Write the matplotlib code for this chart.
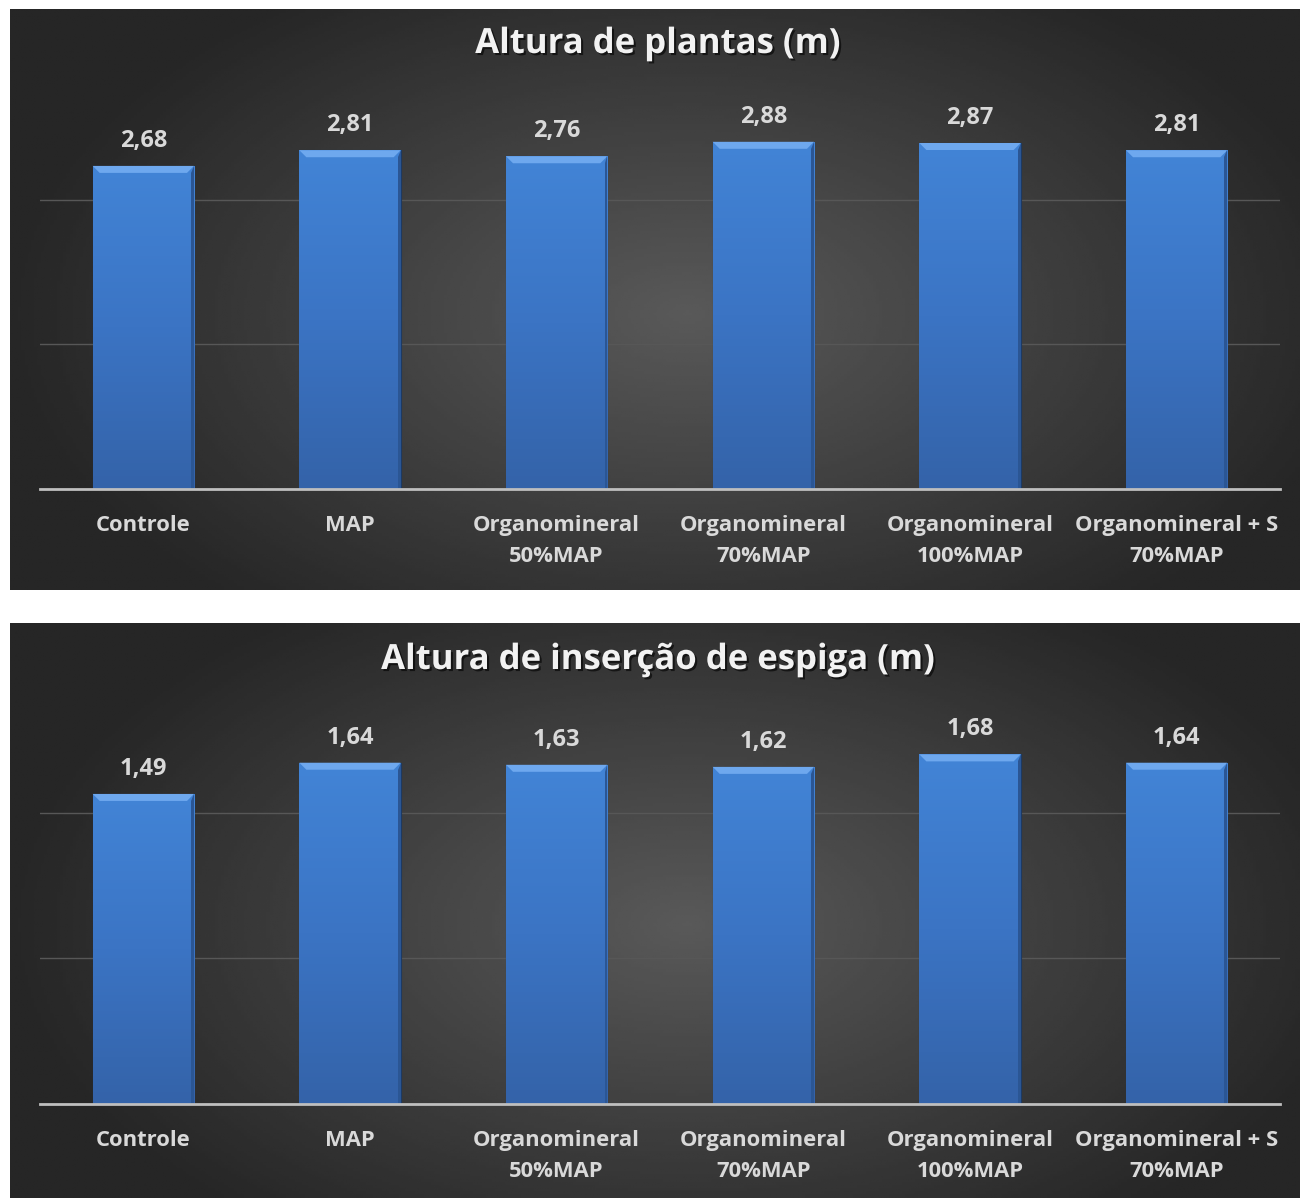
import numpy as np
import matplotlib
matplotlib.use('Agg')
import matplotlib.pyplot as plt
from matplotlib.patches import Polygon
from matplotlib.colors import LinearSegmentedColormap
import matplotlib.patheffects as pe

plt.rcParams['font.family'] = ['Open Sans', 'DejaVu Sans']

# DADOS
categorias = ['Controle', 'MAP', 'Organomineral\n50%MAP', 'Organomineral\n70%MAP',
              'Organomineral\n100%MAP', 'Organomineral + S\n70%MAP']
altura_plantas = [2.68, 2.81, 2.76, 2.88, 2.87, 2.81]
altura_espiga = [1.49, 1.64, 1.63, 1.62, 1.68, 1.64]

W, H = 1301, 1198
fig = plt.figure(figsize=(W / 100, H / 100), dpi=100)
fig.patch.set_facecolor('white')

cmap_barra = LinearSegmentedColormap.from_list('barra', ['#3463a9', '#3b74c4', '#4284d6'])
TXT = '#d9d9d9'


# FUNDO COM GRADIENTE RADIAL
def fundo(y0, y1):
    ax = fig.add_axes([10 / W, 1 - y1 / H, 1290 / W, (y1 - y0) / H])
    yy, xx = np.mgrid[-1:1:200j, -1:1:400j]
    r = np.sqrt(((xx - 0.05) * 0.95) ** 2 + ((yy - 0.05) * 0.75) ** 2)
    v = 0.35 - 0.2 * np.clip(r, 0, 1)
    ax.imshow(v, cmap='gray', vmin=0, vmax=1, aspect='auto', extent=[0, 1, 0, 1])
    ax.set_axis_off()


# GRAFICO DE BARRAS
def grafico(y_top, y_base, y_titulo, valores, titulo, ymax, passo):
    altura_px = y_base - y_top
    ax = fig.add_axes([40 / W, 1 - y_base / H, 1240 / W, altura_px / H])
    ax.set_facecolor('none')
    x = np.arange(len(valores))
    barras = ax.bar(x, valores, width=0.49, color='#3b78c8',
                    edgecolor='#1d3a63', linewidth=0.8, zorder=3)

    grad = np.linspace(0, 1, 100).reshape(-1, 1)
    dy = 7 * ymax / altura_px
    dx = 7 * 6 / 1240
    for b, v in zip(barras, valores):
        x0 = b.get_x()
        x1 = x0 + b.get_width()
        im = ax.imshow(grad, cmap=cmap_barra, aspect='auto', origin='lower',
                       extent=[x0, x1, 0, v], zorder=3.5)
        im.set_clip_path(b)
        # bisel superior
        ax.add_patch(Polygon([(x0, v), (x1, v), (x1 - dx, v - dy), (x0 + dx, v - dy)],
                             closed=True, facecolor='#6ea8ee', edgecolor='none', zorder=4))
        ax.add_patch(Polygon([(x1, v), (x1, 0), (x1 - dx * 0.4, 0), (x1 - dx * 0.4, v - dy)],
                             closed=True, facecolor='#2b5694', edgecolor='none', zorder=4))
        ax.annotate(f'{v:.2f}'.replace('.', ','), (b.get_x() + b.get_width() / 2, v),
                    xytext=(0, 18), textcoords='offset points', ha='center', va='center',
                    fontsize=17, fontweight='bold', color=TXT, zorder=5)

    ax.set_xlim(-0.5, len(valores) - 0.5)
    ax.set_ylim(0, ymax)
    ax.set_yticks(np.arange(passo, ymax - 1e-6, passo))
    ax.yaxis.grid(True, color='#575757', linewidth=1, zorder=1)
    ax.tick_params(axis='y', length=0, labelleft=False)
    ax.set_xticks(x, categorias)
    ax.tick_params(axis='x', length=0, pad=19, colors=TXT, labelsize=15.8)
    for t in ax.get_xticklabels():
        t.set_fontweight('bold')
        t.set_linespacing(1.62)
    for s in ['top', 'left', 'right']:
        ax.spines[s].set_visible(False)
    ax.spines['bottom'].set_color('#bfbfbf')
    ax.spines['bottom'].set_linewidth(2)
    ax.spines['bottom'].set_zorder(6)

    fig.text(658 / W, 1 - y_titulo / H, titulo, ha='center', va='baseline',
             fontsize=25, fontweight='bold', color='#f2f2f2',
             path_effects=[pe.withSimplePatchShadow(offset=(1.5, -1.5), shadow_rgbFace='black', alpha=0.6)])


fundo(9, 590)
grafico(55, 489, 53, altura_plantas, 'Altura de plantas (m)', 3.6, 1.2)
fundo(623, 1198)
grafico(667, 1104, 669, altura_espiga, 'Altura de inserção de espiga (m)', 2.1, 0.7)

fig.savefig('out.png', dpi=100, facecolor='white')
